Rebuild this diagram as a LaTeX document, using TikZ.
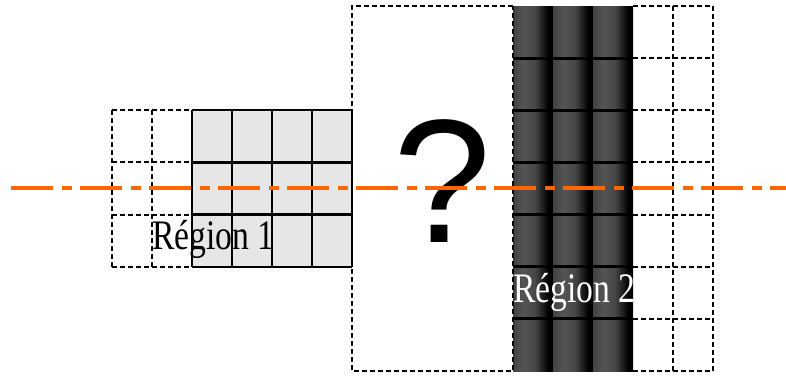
\documentclass[tikz,border=0pt]{standalone}
\usepackage{fontspec}
\setmainfont{Liberation Serif}
\newfontfamily\qfont{Liberation Sans}
\pgfdeclarehorizontalshading{colshade}{100bp}{color(0bp)=(black!74); color(25bp)=(black!74); color(38bp)=(black!67); color(52bp)=(black!72); color(63bp)=(black!90); color(69bp)=(black); color(100bp)=(black)}
\definecolor{lineorange}{RGB}{255,102,0}
\definecolor{cellgray}{RGB}{230,230,230}
\begin{document}
\begin{tikzpicture}[x=1pt,y=-1pt,
 dashedline/.style={black,line width=2pt,dash pattern=on 5pt off 3pt},
 solidline/.style={black,line width=2.2pt},
 rowsep/.style={black,line width=3pt},
 axisline/.style={lineorange,line width=3.5pt,dash pattern=on 42pt off 9pt on 10pt off 8pt},
 regionlabel/.style={inner sep=0,anchor=base west,font=\fontsize{42}{42}\selectfont,xscale=0.8}]
\useasboundingbox (0,0) rectangle (786,376);
% left gray area
\fill[cellgray] (192,110.29) rectangle (352,266.71);
% dark columns
\foreach \c in {513,553,593}
  \shade[shading=colshade] (\c,6) rectangle ++(40,365);
% row separators in dark columns
\foreach \k in {1,...,6}
  \draw[rowsep] (513,6+\k*52.143) -- (633,6+\k*52.143);
% right dashed grid
\foreach \k in {0,...,7}
  \draw[dashedline] (633,6+\k*52.143) -- (713,6+\k*52.143);
\foreach \x in {673,713}
  \draw[dashedline] (\x,6) -- (\x,371);
% middle dashed box
\draw[dashedline] (513,6) -- (352,6) -- (352,371) -- (513,371) -- cycle;
% left dashed cells
\foreach \k in {2,...,5}
  \draw[dashedline] (112,6+\k*52.143) -- (192,6+\k*52.143);
\foreach \x in {112,152}
  \draw[dashedline] (\x,110.29) -- (\x,266.71);
% left solid grid
\foreach \k in {2,...,5}
  \draw[solidline] (192,6+\k*52.143) -- (352,6+\k*52.143);
\foreach \x in {192,232,272,312,352}
  \draw[solidline] (\x,110.29) -- (\x,266.71);
% labels
\node[regionlabel] (r1) at (152,249) {Région 1};
\node[regionlabel,text=white] (r2) at (513,302) {Région 2};
% question mark
\node[inner sep=0,anchor=base,font=\qfont\fontsize{176}{176}\selectfont] (qmark) at (442,242) {?};
% orange axis
\coordinate (axl) at (11,188);
\coordinate (axr) at (786,188);
\draw[axisline] (axl) -- (axr);
\end{tikzpicture}
\end{document}
